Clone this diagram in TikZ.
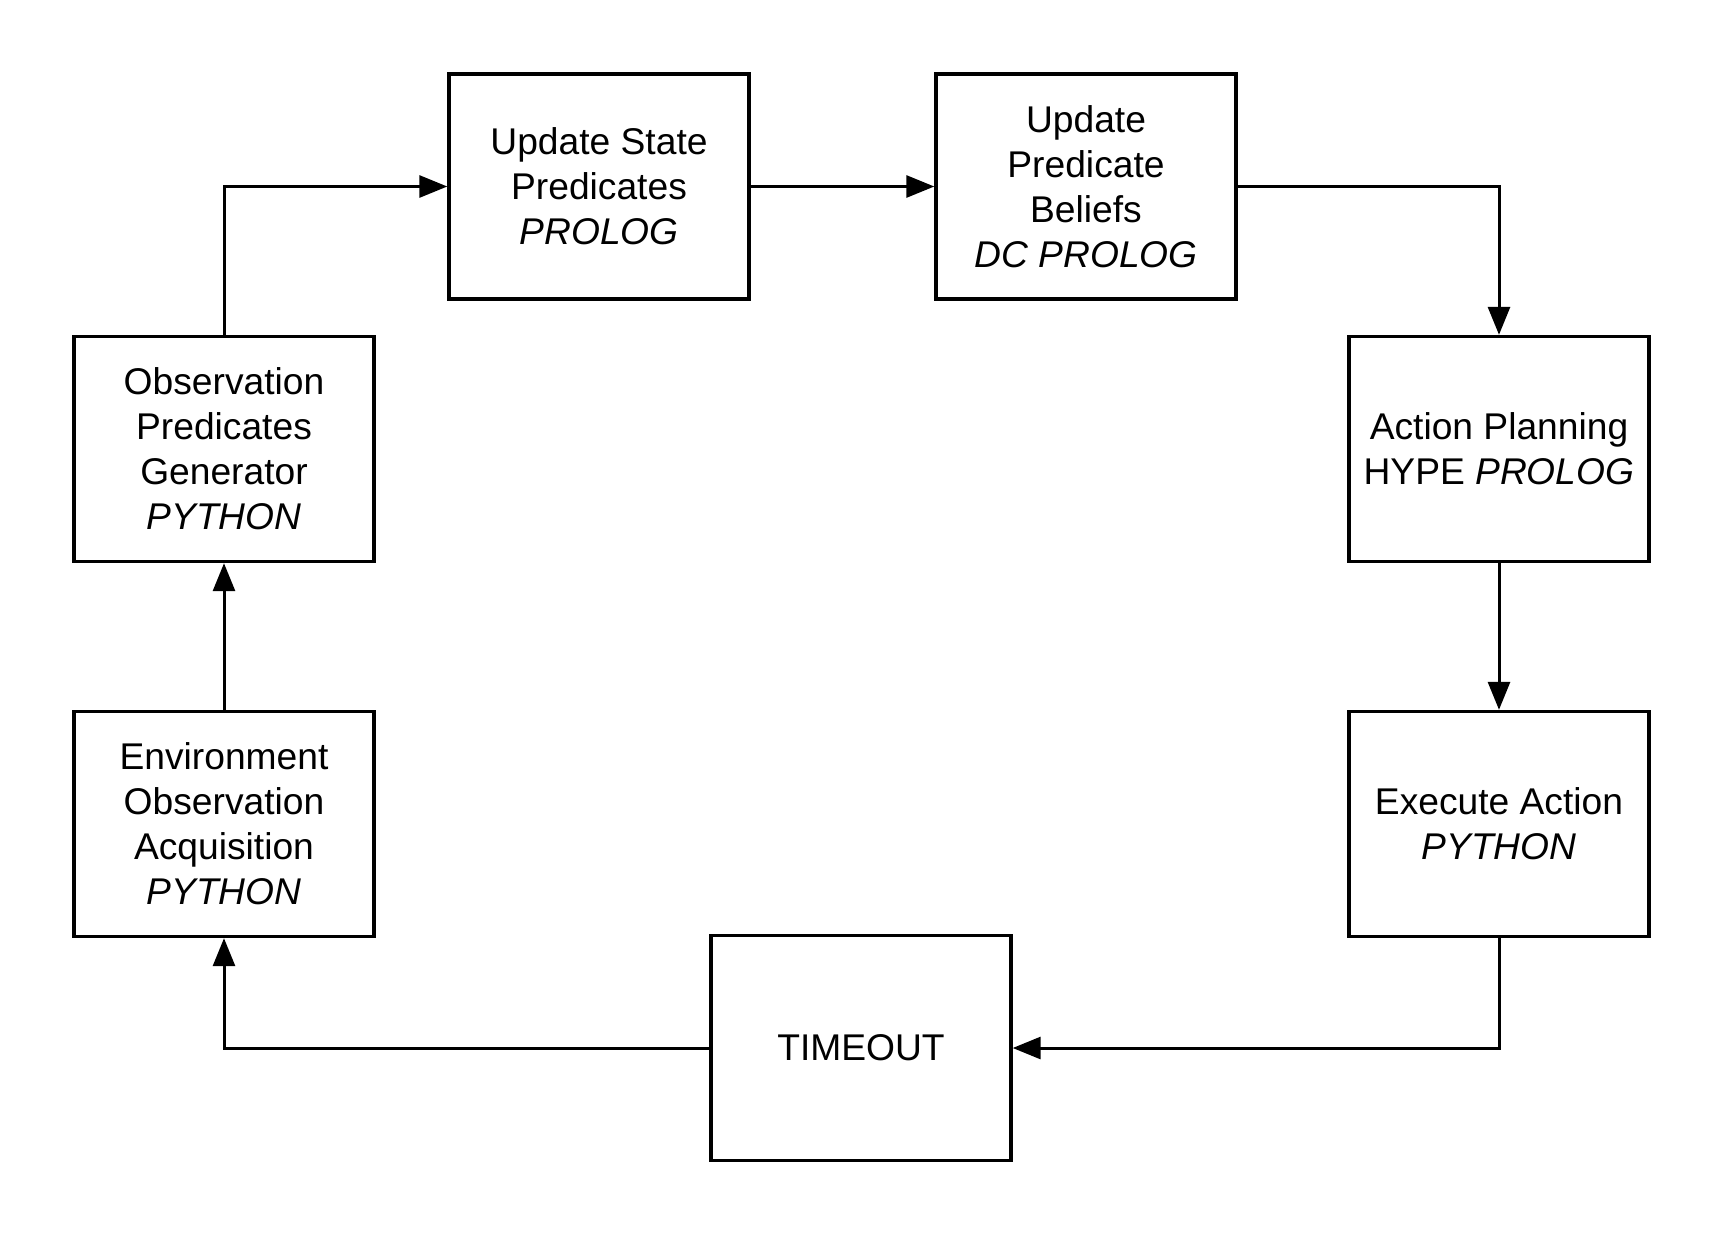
\documentclass[tikz,border=0pt]{standalone}
\usepackage{fontspec}
\setmainfont{Liberation Sans}
\usetikzlibrary{arrows.meta}
\tikzset{
  stage/.style={draw, line width=1.7pt, minimum width=150pt, minimum height=112.5pt, align=center, font=\fontsize{18.6}{22.5}\selectfont},
  flow/.style={-{Triangle[length=14pt, width=11pt]}, line width=1.5pt},
}

\begin{document}
\begin{tikzpicture}[x=0.5pt, y=-0.5pt]
  \useasboundingbox (0,0) rectangle (1725,1238);
  \node[stage] (usp) at (599,186.5) {Update State\\Predicates\\\textit{PROLOG}};
  \node[stage] (upb) at (1086,186.5) {Update\\Predicate\\Beliefs\\\textit{DC PROLOG}};
  \node[stage] (opg) at (224,449) {Observation\\Predicates\\Generator\\\textit{PYTHON}};
  \node[stage] (apl) at (1499,449) {Action Planning\\HYPE \textit{PROLOG}};
  \node[stage] (eoa) at (224,824) {Environment\\Observation\\Acquisition\\\textit{PYTHON}};
  \node[stage] (exa) at (1499,824) {Execute Action\\\textit{PYTHON}};
  \node[stage] (tmo) at (861,1048) {TIMEOUT};
  \draw[flow] (opg.north) |- (usp.west);
  \draw[flow] (usp) -- (upb);
  \draw[flow] (upb.east) -| (apl.north);
  \draw[flow] (apl) -- (exa);
  \draw[flow] (exa.south) |- (tmo.east);
  \draw[flow] (tmo.west) -| (eoa.south);
  \draw[flow] (eoa) -- (opg);
\end{tikzpicture}
\end{document}
